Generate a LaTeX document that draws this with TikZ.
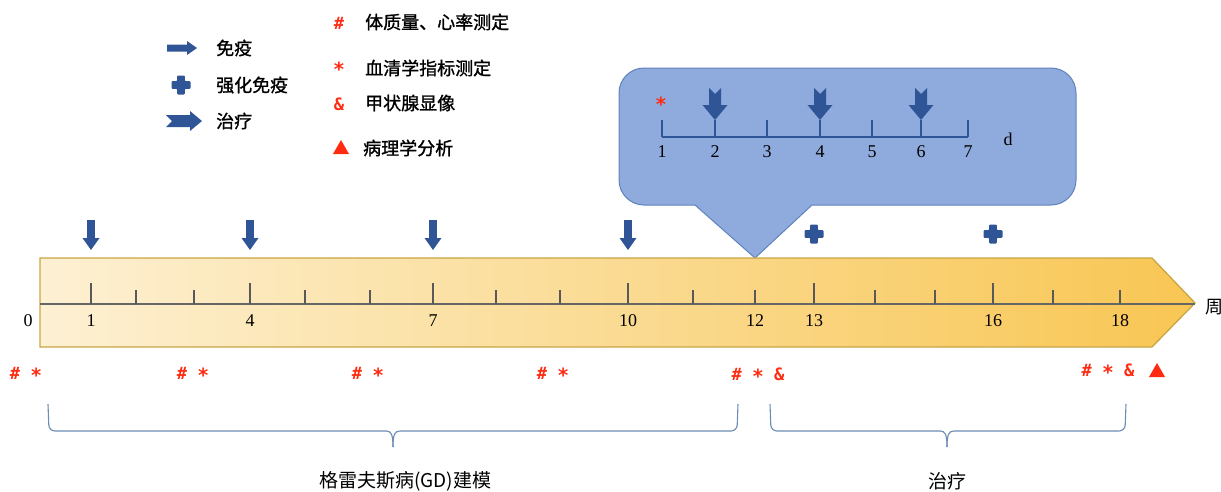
\documentclass[tikz,border=0pt]{standalone}
\usepackage{fontspec}
\setmainfont{Liberation Serif}
\newfontfamily\cjk{Noto Sans CJK SC}[FakeBold=1.2]
\newfontfamily\cjkn{Noto Sans CJK SC}
\newfontfamily\mkfont{DejaVu Sans Mono}
\definecolor{navy}{HTML}{2F5597}
\definecolor{mkred}{HTML}{FF2A10}
\definecolor{barL}{HTML}{FDF0D3}
\definecolor{barR}{HTML}{F8C653}
\definecolor{barB}{HTML}{C9A544}
\definecolor{callF}{HTML}{8FAADC}
\definecolor{callB}{HTML}{5F82BC}
\definecolor{braceC}{HTML}{6A8CB5}
\newcommand{\myast}{\raisebox{-3pt}{\scalebox{1.15}{*}}}
\tikzset{
  downarr/.pic={\fill[navy] (-3.8,-15)--(3.8,-15)--(3.8,3)--(8.5,3)--(0,15)--(-8.5,3)--(-3.8,3)--cycle;},
  notcharr/.pic={\fill[navy] (-6,-16)--(0,-10)--(6,-16)--(6,1)--(12.5,1)--(0,16)--(-12.5,1)--(-6,1)--cycle;},
  plusmark/.pic={\fill[navy,rounded corners=1] (-3.8,-9.5)--(3.8,-9.5)--(3.8,-3.8)--(9.5,-3.8)--(9.5,3.8)--(3.8,3.8)--(3.8,9.5)--(-3.8,9.5)--(-3.8,3.8)--(-9.5,3.8)--(-9.5,-3.8)--(-3.8,-3.8)--cycle;},
  rightarr/.pic={\fill[navy] (-15,-3.5)--(5,-3.5)--(5,-7)--(15,0)--(5,7)--(5,3.5)--(-15,3.5)--cycle;},
  notchright/.pic={\fill[navy] (-18,-6)--(6,-6)--(6,-10)--(18,0)--(6,10)--(6,6)--(-18,6)--(-12,0)--cycle;},
  redtri/.pic={\fill[mkred] (-8,6)--(8,6)--(0,-8)--cycle;},
  num/.style={font=\fontsize{18}{20}\selectfont, inner sep=0pt},
  cn/.style={font=\cjk\fontsize{18}{21}\selectfont, inner sep=0pt},
  cnb/.style={font=\cjkn\fontsize{19}{22}\selectfont, inner sep=0pt},
  mk/.style={font=\mkfont\bfseries\fontsize{17}{19}\selectfont, text=mkred, inner sep=0pt},
  brace/.style={draw=braceC, line width=1.1pt, rounded corners=6},
}
\begin{document}
\begin{tikzpicture}[x=1pt,y=-1pt]
\useasboundingbox (0,0) rectangle (1221,491);

% ---------- legend ----------
\pic at (182,48) {rightarr};
\node[cn, anchor=west] (lg1) at (216,48) {免疫};
\pic at (181,85) {plusmark};
\node[cn, anchor=west] (lg2) at (216,85) {强化免疫};
\pic at (184,121) {notchright};
\node[cn, anchor=west] (lg3) at (216,121) {治疗};

\node[mk] (lgm1) at (339,23) {\#};
\node[cn, anchor=west] (lg4) at (365,22) {体质量、心率测定};
\node[mk] (lgm2) at (339,69) {\myast};
\node[cn, anchor=west] (lg5) at (365,68) {血清学指标测定};
\node[mk] (lgm3) at (339,104) {\&};
\node[cn, anchor=west] (lg6) at (365,103) {甲状腺显像};
\pic at (341,148) {redtri};
\node[cn, anchor=west] (lg7) at (363,148) {病理学分析};

% ---------- callout ----------
\fill[callF, rounded corners=25] (619,68) rectangle (1076,205);
\fill[callF] (694,204) -- (755,258) -- (813,204) -- cycle;
\draw[callB, line width=1pt, rounded corners=25, line join=round]
  (695,205) -- (619,205) -- (619,68) -- (1076,68) -- (1076,205) -- (812,205);
\draw[callB, line width=1pt, line join=round] (695,205) -- (755,258) -- (812,205);

\draw[navy, line width=1.4pt] (662,137) -- (968,137);
\foreach \x/\t [count=\i] in {662/1,715/2,767/3,820/4,872/5,921/6,968/7}{
  \draw[navy, line width=1.4pt] (\x,137) -- (\x,120);
  \node[num] (cl\i) at (\x,152) {\t};
}
\node[num] (cld) at (1008,139) {d};
\node[mk] (clm) at (661,104) {\myast};
\foreach \x in {715,820,921}{ \pic at (\x,104) {notcharr}; }

% ---------- main bar ----------
\shadedraw[left color=barL, right color=barR, draw=barB, line width=1.3pt]
  (40,258) -- (1152,258) -- (1195,303) -- (1152,347) -- (40,347) -- cycle;
\draw[gray!80!black, line width=1.2pt] (40,304) -- (1195,304);
\foreach \x in {91,250,433,628,814,993}{
  \draw[gray!70!black, line width=1.2pt] (\x,304) -- (\x,283);
}
\foreach \x in {136,194,305,370,496,560,693,755,875,935,1053,1120}{
  \draw[gray!70!black, line width=1.2pt] (\x,304) -- (\x,290);
}
\node[num] (n0) at (28,321) {0};
\foreach \x/\t in {91/1,250/4,433/7,628/10,755/12,814/13,993/16,1120/18}{
  \node[num] (n\t) at (\x,321) {\t};
}
\node[font=\cjkn\fontsize{18}{21}\selectfont, inner sep=0pt] (zhou) at (1214,307) {周};

\foreach \x in {91,250,433,628}{ \pic at (\x,235) {downarr}; }
\foreach \x in {814,993}{ \pic at (\x,234) {plusmark}; }

% ---------- measurement marks ----------
\node[mk] (m1) at (26,375) {\# \myast};
\node[mk] (m2) at (193,375) {\# \myast};
\node[mk] (m3) at (368,375) {\# \myast};
\node[mk] (m4) at (553,375) {\# \myast};
\node[mk] (m5) at (758,376) {\# \myast{} \&};
\node[mk] (m6) at (1108,372) {\# \myast{} \&};
\pic at (1157,371) {redtri};

% ---------- braces ----------
\draw[brace] (48,404) -- (49,431) -- (386,431);
\draw[braceC, line width=1.1pt] (386,431) .. controls (391,431) and (393,434) .. (393,447);
\draw[brace] (738,404) -- (737,431) -- (400,431);
\draw[braceC, line width=1.1pt] (400,431) .. controls (395,431) and (393,434) .. (393,447);
\node[cnb] (gd) at (405,481) {格雷夫斯病(GD)建模};

\draw[brace] (770,404) -- (771,431) -- (940,431);
\draw[braceC, line width=1.1pt] (940,431) .. controls (945,431) and (947,434) .. (947,447);
\draw[brace] (1126,404) -- (1125,431) -- (954,431);
\draw[braceC, line width=1.1pt] (954,431) .. controls (949,431) and (947,434) .. (947,447);
\node[cnb] (zl) at (947,481) {治疗};
\end{tikzpicture}
\end{document}
